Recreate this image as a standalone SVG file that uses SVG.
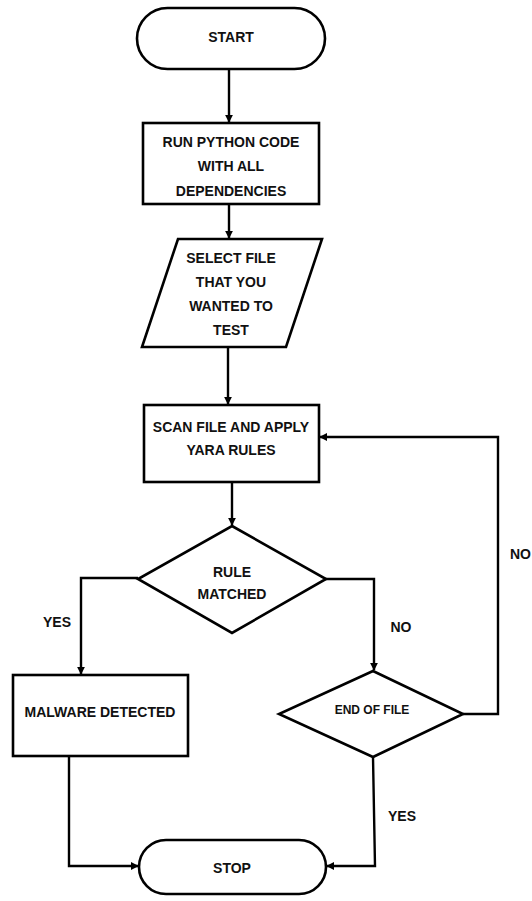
<svg xmlns="http://www.w3.org/2000/svg" width="532" height="901" viewBox="0 0 532 901">
<style>
.shape{fill:#fff;stroke:#000;stroke-width:2.6}
.conn{fill:none;stroke:#000;stroke-width:2.4}
text{font-family:"Liberation Sans",Arial,sans-serif;font-weight:bold;font-size:14px;fill:#111;text-anchor:middle}
.small{font-size:12px}
</style>
<defs>
<marker id="ah" viewBox="0 0 10 10" refX="9" refY="5" markerWidth="8" markerHeight="8" markerUnits="userSpaceOnUse" orient="auto">
<path d="M0,0 L10,5 L0,10 z" fill="#000"/>
</marker>
</defs>
<rect width="532" height="901" fill="#fff"/>
<g id="connectors">
<path class="conn" d="M229,69 V122" marker-end="url(#ah)"/>
<path class="conn" d="M229,204 V238" marker-end="url(#ah)"/>
<path class="conn" d="M228,347 V404" marker-end="url(#ah)"/>
<path class="conn" d="M232,482 V525" marker-end="url(#ah)"/>
<path class="conn" d="M138,578 H81 V674" marker-end="url(#ah)"/>
<path class="conn" d="M325,579 H374 V670" marker-end="url(#ah)"/>
<path class="conn" d="M463,714 H498 V437 H320" marker-end="url(#ah)"/>
<path class="conn" d="M69,756 V866 H138" marker-end="url(#ah)"/>
<path class="conn" d="M373,757 L375,866 H327" marker-end="url(#ah)"/>
<text x="57" y="627">YES</text>
<text x="401" y="632">NO</text>
<text x="402" y="821">YES</text>
<text x="510" y="559" style="text-anchor:start">NO</text>
</g>
<g id="start">
<rect class="shape" x="137" y="8" width="188" height="61" rx="30.5"/>
<text x="231" y="42">START</text>
</g>
<g id="run">
<rect class="shape" x="143" y="123" width="176" height="81"/>
<text x="231" y="147">RUN PYTHON CODE</text>
<text x="231" y="171">WITH ALL</text>
<text x="231" y="196">DEPENDENCIES</text>
</g>
<g id="select">
<polygon class="shape" points="178,239 322,239 286,347 142,347"/>
<text x="231" y="263">SELECT FILE</text>
<text x="231" y="287">THAT YOU</text>
<text x="231" y="311">WANTED TO</text>
<text x="231" y="335">TEST</text>
</g>
<g id="scan">
<rect class="shape" x="144" y="405" width="175" height="77"/>
<text x="231" y="432">SCAN FILE AND APPLY</text>
<text x="231" y="455">YARA RULES</text>
</g>
<g id="rule">
<polygon class="shape" points="232,526 326,579 232,633 138,579"/>
<text x="232" y="577">RULE</text>
<text x="232" y="599">MATCHED</text>
</g>
<g id="malware">
<rect class="shape" x="13" y="675" width="175" height="81"/>
<text x="100" y="717">MALWARE DETECTED</text>
</g>
<g id="eof">
<polygon class="shape" points="373,671 463,714 373,757 279,714"/>
<text class="small" x="372" y="714">END OF FILE</text>
</g>
<g id="stop">
<rect class="shape" x="139" y="840" width="187" height="54" rx="27"/>
<text x="232" y="873">STOP</text>
</g>
</svg>
